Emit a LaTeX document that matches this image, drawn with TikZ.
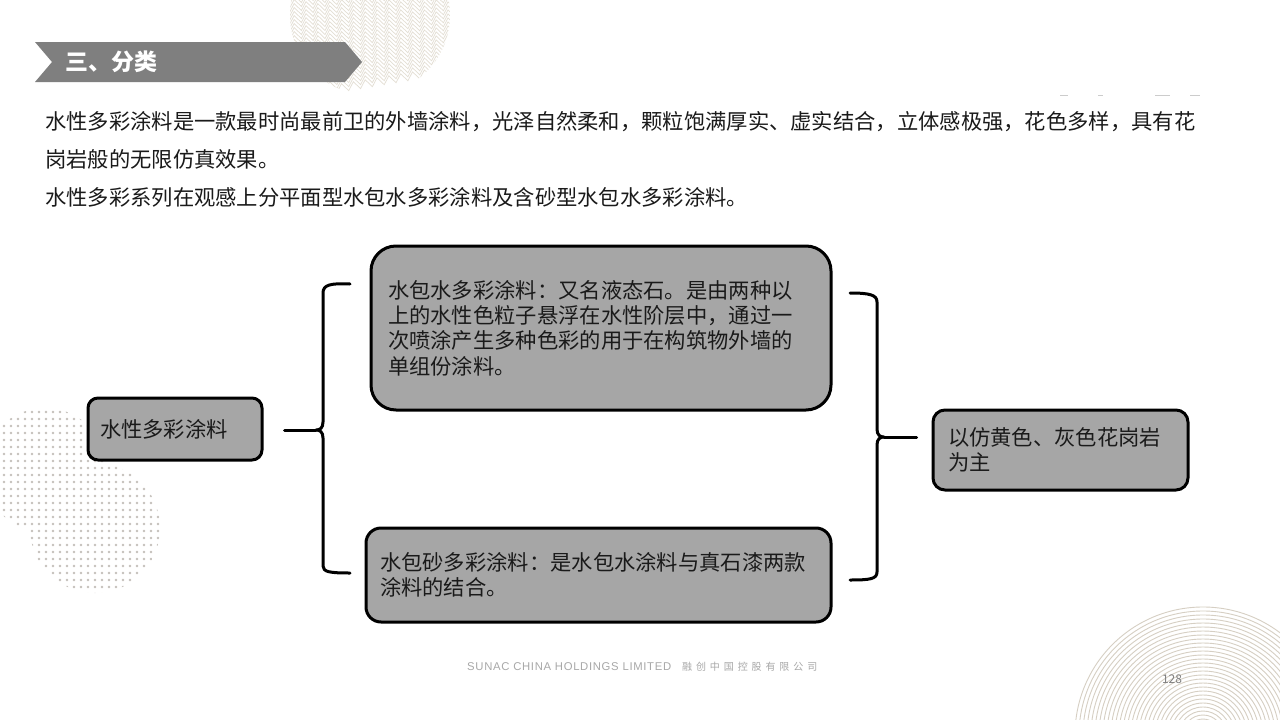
\documentclass[tikz,border=0pt]{standalone}
\usepackage{fontspec}
\setmainfont{Noto Sans CJK SC}
\newfontfamily\cjk{Noto Sans CJK SC}
\newfontfamily\latinfoot[LetterSpace=6]{Liberation Sans}
\usetikzlibrary{decorations.pathmorphing}
\definecolor{boxgray}{HTML}{A6A6A6}
\definecolor{bannergray}{HTML}{7F7F7F}
\definecolor{txt}{HTML}{1A1A1A}
\definecolor{deco}{HTML}{E3DED3}
\definecolor{ringc}{HTML}{D6CFC3}
\definecolor{dotc}{HTML}{C4C0BA}
\definecolor{foot}{HTML}{A8A8A8}
\tikzset{
  body/.style={anchor=west, inner sep=0pt, text=txt, font=\fontsize{21.3}{25}\selectfont},
  gbox/.style={draw=black, line width=3pt, fill=boxgray, inner sep=0pt, align=left,
    text=txt, font=\fontsize{21.3}{25.3}\selectfont},
  brace/.style={draw=black, line width=3pt, line cap=round, line join=round},
}
\begin{document}
\begin{tikzpicture}[x=1pt,y=-1pt]
\useasboundingbox (0,0) rectangle (1280,720);
\fill[white] (0,0) rectangle (1280,720);

% zigzag decoration top
\begin{scope}
\clip (370,15) circle (80);
\foreach \yy in {-70,-66,...,100}
  \draw[deco, line width=0.7pt, decorate, decoration={zigzag, segment length=12, amplitude=4}] (280,\yy) -- (460,\yy-30);
\end{scope}

% halftone dots
\begin{scope}
\clip (45,470) circle (62) (95,528) circle (65);
\foreach \i in {0,...,22}
  \foreach \j in {0,...,28}
    \fill[dotc] (4+7*\i, 412+7*\j) circle (1.3);
\end{scope}

% concentric rings
\begin{scope}
\clip (0,0) rectangle (1280,720);
\foreach \r in {8,12,...,128}
  \draw[ringc, line width=0.9pt] (1203,735) circle (\r);
\end{scope}

% faint marks
\foreach \a/\b in {1060/1068,1098/1103,1155/1170,1190/1200}
  \draw[gray!40, line width=1pt] (\a,95) -- (\b,95);

% banner
\fill[bannergray] (35,42) -- (345,42) -- (362,62) -- (345,82) -- (35,82) -- (52,62) -- cycle;
\node[anchor=west, inner sep=0pt, text=white, font=\fontsize{23}{23}\selectfont\bfseries] (title) at (65,62) {三、分类};

% paragraph
\node[body] (p1) at (45,122) {水性多彩涂料是一款最时尚最前卫的外墙涂料，光泽自然柔和，颗粒饱满厚实、虚实结合，立体感极强，花色多样，具有花};
\node[body] (p2) at (45,159) {岗岩般的无限仿真效果。};
\node[body] (p3) at (45,197) {水性多彩系列在观感上分平面型水包水多彩涂料及含砂型水包水多彩涂料。};

% boxes
\node[gbox, rounded corners=10pt, minimum width=174, minimum height=62, text width=150] (A) at (175,429) {水性多彩涂料};
\node[gbox, rounded corners=25pt, minimum width=460, minimum height=164, text width=426] (B) at (601,328) {水包水多彩涂料：又名液态石。是由两种以\\上的水性色粒子悬浮在水性阶层中，通过一\\次喷涂产生多种色彩的用于在构筑物外墙的\\单组份涂料。};
\node[gbox, rounded corners=15pt, minimum width=465, minimum height=94, text width=437] (C) at (598.5,575) {水包砂多彩涂料：是水包水涂料与真石漆两款\\涂料的结合。};
\node[gbox, rounded corners=12pt, minimum width=255, minimum height=80, text width=225] (D) at (1060.5,450) {以仿黄色、灰色花岗岩\\为主};

% left brace
\coordinate (lnose) at (316,430);
\draw[brace] ([xshift=21]A.east |- lnose) -- (lnose);
\draw[brace] (350,284) .. controls (330,283) and (323,285) .. (323,293)
  -- (323,422) .. controls (323,428) and (320,430) .. (lnose)
  .. controls (320,430) and (323,432) .. (323,438)
  -- (323,566) .. controls (323,572) and (330,573) .. (350,573);

% right brace
\coordinate (rnose) at (884,437);
\draw[brace] (rnose) -- ([xshift=-15]D.west |- rnose);
\draw[brace] (850,293) .. controls (870,293) and (877,295) .. (877,302)
  -- (877,429) .. controls (877,435) and (880,437) .. (rnose)
  .. controls (880,437) and (877,439) .. (877,445)
  -- (877,572) .. controls (877,579) and (870,580) .. (850,580);

% footer
\node[anchor=west, inner sep=0pt, text=foot, font=\latinfoot\fontsize{11.3}{11}\selectfont] (f1) at (467,667) {SUNAC CHINA HOLDINGS LIMITED};
\node[anchor=west, inner sep=0pt, text=foot, font=\fontsize{10}{10}\selectfont] (f2) at (682,667) {融\hskip3.9pt 创\hskip3.9pt 中\hskip3.9pt 国\hskip3.9pt 控\hskip3.9pt 股\hskip3.9pt 有\hskip3.9pt 限\hskip3.9pt 公\hskip3.9pt 司};
\node[inner sep=0pt, text=gray, font=\fontsize{12}{12}\selectfont] (pg) at (1172,679) {128};
\end{tikzpicture}
\end{document}
